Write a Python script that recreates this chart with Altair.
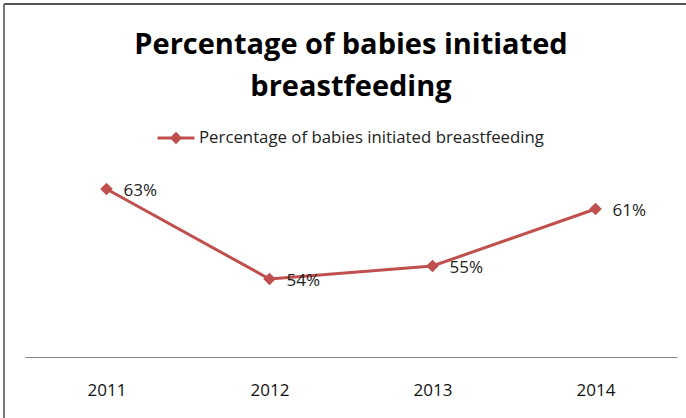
import altair as alt
import pandas as pd

years = ["2011", "2012", "2013", "2014"]
values = [63.0, 54.0, 55.3, 61.0]
labels = ["63%", "54%", "55%", "61%"]
series = "Percentage of babies initiated breastfeeding"

df = pd.DataFrame({"year": years, "value": values, "label": labels, "series": series})

RED = "#C0504D"
FONT = "Open Sans"

x = alt.X("year:N", scale=alt.Scale(type="point", padding=0.5),
          axis=alt.Axis(title=None, labelAngle=0, ticks=False, grid=False,
                        domainColor="#868686", domainWidth=1,
                        labelFont=FONT, labelFontSize=17, labelColor="#111",
                        labelPadding=25))
y = alt.Y("value:Q", scale=alt.Scale(domain=[46.2, 66.2], nice=False, zero=False), axis=None)

base = alt.Chart(df)

line = base.mark_line(color=RED, strokeWidth=3).encode(x=x, y=y)

pts = base.mark_point(shape="diamond", filled=True, size=160, opacity=1).encode(
    x=x, y=y,
    color=alt.Color("series:N", scale=alt.Scale(range=[RED]),
                    legend=alt.Legend(orient="none", legendX=131, legendY=-39, title=None,
                                      symbolType="M-1,0L1,0M0,-0.22L0.22,0L0,0.22L-0.22,0Z",
                                      symbolSize=1369, symbolStrokeWidth=3,
                                      symbolFillColor=RED, symbolStrokeColor=RED,
                                      labelFont=FONT, labelFontSize=16.8, labelColor="#222",
                                      labelOffset=3, labelLimit=500))
)

txt = base.mark_text(align="left", baseline="middle", dx=17, dy=2, font=FONT,
                     fontSize=17, color="#222").encode(x=x, y=y, text="label:N")

border_top = base.mark_rule(color="#555", strokeWidth=2).encode(
    x=alt.value(-21), x2=alt.value(661), y=alt.value(-153))
border_left = base.mark_rule(color="#777", strokeWidth=1.5).encode(
    x=alt.value(-21), y=alt.value(-153), y2=alt.value(270))

chart = alt.layer(border_top, border_left, line, pts, txt).properties(
    width=652, height=200,
    autosize=alt.AutoSizeParams(type="none"),
    padding={"left": 25, "top": 157, "right": 9, "bottom": 61},
    background="white",
    title=alt.Title(["Percentage of babies initiated", "breastfeeding"],
                    font=FONT, fontSize=29, fontWeight="bold", color="#000",
                    lineHeight=42, anchor="middle", offset=0, dy=99),
).configure_view(stroke=None)

chart.save("out.html", embed_options={"renderer": "svg", "actions": False})
